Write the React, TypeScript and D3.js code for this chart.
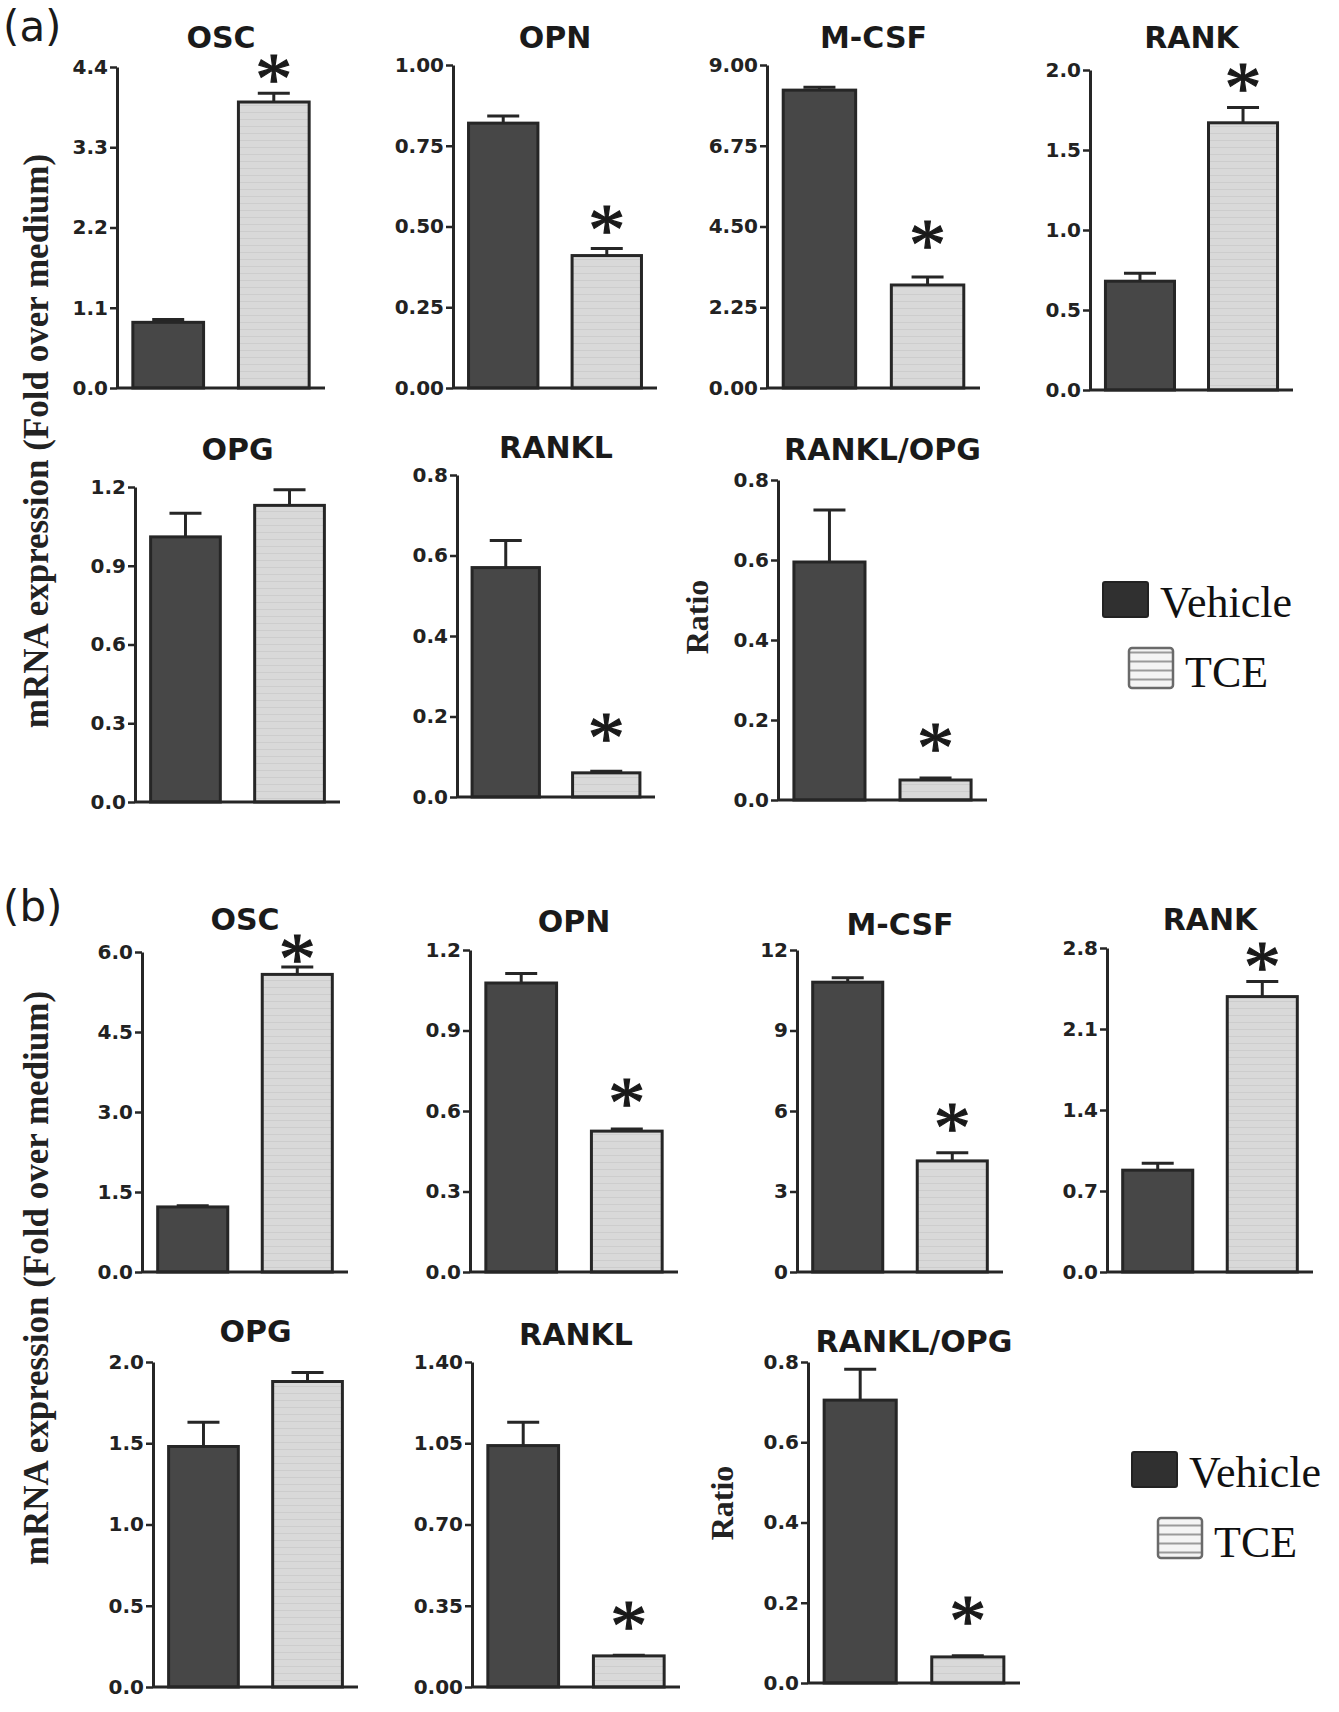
import React, { useEffect, useRef } from 'react';
import * as d3 from 'd3';

// ---------- DATA ----------
const genes = ['OSC', 'OPN', 'M-CSF', 'RANK', 'OPG', 'RANKL', 'RANKL/OPG'];
const groups = ['Vehicle', 'TCE'];
const significant = [true, true, true, true, false, true, true];

// panel (a)
const vehicleA = [0.9, 0.82, 8.3, 0.68, 1.01, 0.57, 0.595];
const vehicleErrA = [0.04, 0.022, 0.08, 0.05, 0.09, 0.067, 0.13];
const tceA = [3.92, 0.41, 2.87, 1.67, 1.13, 0.06, 0.05];
const tceErrA = [0.12, 0.022, 0.22, 0.095, 0.06, 0.004, 0.005];
const yMaxA = [4.4, 1.0, 9, 2.0, 1.2, 0.8, 0.8];
const tickStepA = [1.1, 0.25, 2.25, 0.5, 0.3, 0.2, 0.2];
const tickDecimalsA = [1, 2, 2, 1, 1, 1, 1];

// panel (b)
const vehicleB = [1.22, 1.077, 10.8, 0.88, 1.48, 1.04, 0.705];
const vehicleErrB = [0.02, 0.035, 0.17, 0.06, 0.15, 0.1, 0.077];
const tceB = [5.58, 0.525, 4.14, 2.38, 1.88, 0.134, 0.065];
const tceErrB = [0.14, 0.008, 0.3, 0.13, 0.055, 0.003, 0.003];
const yMaxB = [6.0, 1.2, 12, 2.8, 2.0, 1.4, 0.8];
const tickStepB = [1.5, 0.3, 3, 0.7, 0.5, 0.35, 0.2];
const tickDecimalsB = [1, 1, 0, 1, 1, 2, 1];

const yLabel = 'mRNA expression (Fold over medium)';
const ratioLabel = 'Ratio';
const panelLetters = ['(a)', '(b)'];

// ---------- LAYOUT ----------
type Lay = { x0: number; x1: number; yTop: number; yBot: number; titleY: number; starGap: number };
const layoutA: Lay[] = [
  { x0: 117, x1: 325, yTop: 67, yBot: 388, titleY: 48, starGap: 26 },
  { x0: 453, x1: 657, yTop: 65, yBot: 388, titleY: 48, starGap: 30 },
  { x0: 767, x1: 980, yTop: 65, yBot: 388, titleY: 48, starGap: 44 },
  { x0: 1090, x1: 1293, yTop: 70, yBot: 390, titleY: 48, starGap: 32 },
  { x0: 135, x1: 340, yTop: 487, yBot: 802, titleY: 460, starGap: 36 },
  { x0: 457, x1: 655, yTop: 475, yBot: 797, titleY: 458, starGap: 45 },
  { x0: 778, x1: 987, yTop: 480, yBot: 800, titleY: 460, starGap: 42 },
];
const layoutB: Lay[] = [
  { x0: 142, x1: 348, yTop: 952, yBot: 1272, titleY: 930, starGap: 20 },
  { x0: 470, x1: 678, yTop: 950, yBot: 1272, titleY: 932, starGap: 38 },
  { x0: 797, x1: 1003, yTop: 950, yBot: 1272, titleY: 935, starGap: 37 },
  { x0: 1107, x1: 1313, yTop: 948, yBot: 1272, titleY: 930, starGap: 27 },
  { x0: 153, x1: 358, yTop: 1362, yBot: 1687, titleY: 1342, starGap: 36 },
  { x0: 472, x1: 680, yTop: 1362, yBot: 1687, titleY: 1345, starGap: 41 },
  { x0: 808, x1: 1020, yTop: 1362, yBot: 1683, titleY: 1352, starGap: 47 },
];

const INK = '#262626';
const VEH_FILL = '#474747';
const SANS = 'DejaVu Sans, Verdana, sans-serif';
const SERIF = '"Liberation Serif", "Times New Roman", serif';
const STAR_SIZE = 74;

type PanelProps = {
  lay: Lay;
  gene: string;
  vals: number[];
  errs: number[];
  yMax: number;
  step: number;
  dec: number;
  sig: boolean;
  ratio?: { x: number; y: number } | null;
};

function Panel({ lay, gene, vals, errs, yMax, step, dec, sig, ratio }: PanelProps) {
  const axisRef = useRef<SVGGElement>(null);
  const y = d3.scaleLinear().domain([0, yMax]).range([lay.yBot, lay.yTop]);
  const x = d3
    .scaleBand<string>()
    .domain(groups)
    .range([lay.x0, lay.x1])
    .paddingInner(0.33)
    .paddingOuter(0.15);
  const bw = x.bandwidth();

  useEffect(() => {
    if (!axisRef.current) return;
    const ticks = d3.range(0, yMax + step / 2, step);
    const axis = d3
      .axisLeft(y)
      .tickValues(ticks)
      .tickFormat(d3.format(`.${dec}f`))
      .tickSize(7)
      .tickSizeOuter(0)
      .tickPadding(2);
    const g = d3.select(axisRef.current);
    g.call(axis as any);
    g.select('.domain').attr('stroke', INK).attr('stroke-width', 3);
    g.selectAll('.tick line').attr('stroke', INK).attr('stroke-width', 2.5);
    g.selectAll('.tick text')
      .attr('fill', '#222')
      .style('font-family', SANS)
      .style('font-weight', 'bold')
      .style('font-size', '20px');
  });

  const capW = 32;
  const tceTop = y(vals[1] + errs[1]);

  return (
    <g>
      <text
        x={(lay.x0 + lay.x1) / 2}
        y={lay.titleY}
        textAnchor="middle"
        fontFamily={SANS}
        fontWeight="bold"
        fontSize={30}
        fill="#1a1a1a"
      >
        {gene}
      </text>
      {groups.map((grp, i) => {
        const xc = (x(grp) as number) + bw / 2;
        const top = y(vals[i]);
        const et = y(vals[i] + errs[i]);
        return (
          <g key={grp}>
            <line x1={xc} x2={xc} y1={top} y2={et} stroke={INK} strokeWidth={3} />
            <line x1={xc - capW / 2} x2={xc + capW / 2} y1={et} y2={et} stroke={INK} strokeWidth={3} />
            <rect
              x={x(grp) as number}
              y={top}
              width={bw}
              height={lay.yBot - top}
              fill={i === 0 ? VEH_FILL : 'url(#tceFill)'}
              stroke={INK}
              strokeWidth={3}
            />
          </g>
        );
      })}
      <line x1={lay.x0} x2={lay.x1} y1={lay.yBot} y2={lay.yBot} stroke={INK} strokeWidth={3} />
      <g ref={axisRef} transform={`translate(${lay.x0},0)`} />
      {sig && (
        <text
          x={(x('TCE') as number) + bw / 2}
          y={tceTop - lay.starGap + STAR_SIZE * 0.5}
          textAnchor="middle"
          fontFamily={SERIF}
          fontSize={STAR_SIZE}
          fill="#1a1a1a"
          stroke="#1a1a1a"
          strokeWidth={1.2}
        >
          *
        </text>
      )}
      {ratio && (
        <text
          transform={`translate(${ratio.x},${ratio.y}) rotate(-90)`}
          textAnchor="middle"
          dominantBaseline="central"
          fontFamily={SERIF}
          fontWeight="bold"
          fontSize={32}
          fill="#222"
        >
          {ratioLabel}
        </text>
      )}
    </g>
  );
}

function Legend({ vx, vy, tx, ty }: { vx: number; vy: number; tx: number; ty: number }) {
  return (
    <g>
      <rect x={vx} y={vy} width={45} height={35} fill="#303030" stroke="#222" strokeWidth={2} rx={2} />
      <text x={vx + 57} y={vy + 35} fontFamily={SERIF} fontSize={44} fill="#111">
        {groups[0]}
      </text>
      <rect x={tx} y={ty} width={44} height={40} fill="url(#tceLegend)" stroke="#6a6a6a" strokeWidth={2.5} rx={3} />
      <text x={tx + 56} y={ty + 39} fontFamily={SERIF} fontSize={44} fill="#111">
        {groups[1]}
      </text>
    </g>
  );
}

export default function App() {
  const sets = [
    { lay: layoutA, veh: vehicleA, vehE: vehicleErrA, tce: tceA, tceE: tceErrA, yMax: yMaxA, step: tickStepA, dec: tickDecimalsA },
    { lay: layoutB, veh: vehicleB, vehE: vehicleErrB, tce: tceB, tceE: tceErrB, yMax: yMaxB, step: tickStepB, dec: tickDecimalsB },
  ];
  const letterPos = [
    { x: 3, y: 41 },
    { x: 3, y: 921 },
  ];
  const yLabelPos = [
    { x: 36, y: 441 },
    { x: 36, y: 1278 },
  ];
  const ratioPos = [
    { x: 697, y: 617 },
    { x: 722, y: 1503 },
  ];
  const legendPos = [
    { vx: 1103, vy: 582, tx: 1129, ty: 648 },
    { vx: 1132, vy: 1452, tx: 1158, ty: 1518 },
  ];

  return (
    <svg
      width={1339}
      height={1712}
      style={{ position: 'absolute', left: 0, top: 0, display: 'block', background: '#fff' }}
    >
      <defs>
        <pattern id="tceFill" width="8" height="7" patternUnits="userSpaceOnUse">
          <rect width="8" height="7" fill="#d9d9d9" />
          <line x1="0" x2="8" y1="0.5" y2="0.5" stroke="#cdcdcd" strokeWidth="1" />
        </pattern>
        <pattern id="tceLegend" width="10" height="9" patternUnits="userSpaceOnUse" patternTransform="translate(0,3)">
          <rect width="10" height="9" fill="#f4f4f4" />
          <line x1="0" x2="10" y1="1.5" y2="1.5" stroke="#9a9a9a" strokeWidth="2" />
        </pattern>
      </defs>
      <rect width={1339} height={1712} fill="#fff" />
      {sets.map((s, si) => (
        <g key={si}>
          <text x={letterPos[si].x} y={letterPos[si].y} fontFamily={SANS} fontSize={42} fill="#1a1a1a">
            {panelLetters[si]}
          </text>
          <text
            transform={`translate(${yLabelPos[si].x},${yLabelPos[si].y}) rotate(-90)`}
            textAnchor="middle"
            dominantBaseline="central"
            fontFamily={SERIF}
            fontWeight="bold"
            fontSize={35}
            fill="#222"
          >
            {yLabel}
          </text>
          {genes.map((gene, gi) => (
            <Panel
              key={gene}
              lay={s.lay[gi]}
              gene={gene}
              vals={[s.veh[gi], s.tce[gi]]}
              errs={[s.vehE[gi], s.tceE[gi]]}
              yMax={s.yMax[gi]}
              step={s.step[gi]}
              dec={s.dec[gi]}
              sig={significant[gi]}
              ratio={gi === genes.length - 1 ? ratioPos[si] : null}
            />
          ))}
          <Legend {...legendPos[si]} />
        </g>
      ))}
    </svg>
  );
}
